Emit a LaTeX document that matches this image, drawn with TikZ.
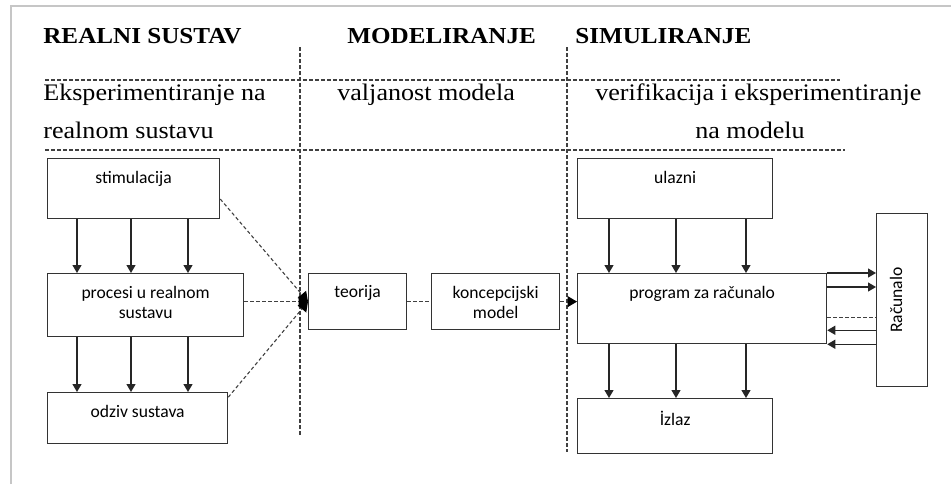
\documentclass[tikz,border=0pt]{standalone}
\usepackage{fontspec}
\setmainfont{Liberation Serif}[FakeStretch=1.1]
\newfontfamily\blokfont{Carlito}
\usepackage{xcolor}
\usetikzlibrary{arrows.meta,positioning,calc}

\tikzset{
	blok/.style={draw=black!80, line width=0.25mm, anchor=north west, inner sep=0pt},
	natpis/.style={anchor=north, font=\blokfont\fontsize{10}{11.5}\selectfont, align=center, inner sep=0pt, yshift=-2.5mm},
	strelica/.style={draw=black!85, line width=0.25mm, -{Triangle[length=1.6mm,width=1.8mm]}},
	isprekidana/.style={draw=black!75, line width=0.22mm, dash pattern=on 0.7mm off 0.5mm},
	vrh/.style={-{Triangle[length=1.9mm,width=2.2mm,color=black]}},
	naslov/.style={anchor=base west, inner sep=0pt, font=\fontsize{13}{15}\selectfont\bfseries},
	redak/.style={anchor=base west, inner sep=0pt, font=\fontsize{13.5}{16}\selectfont}
}

\begin{document}
\begin{tikzpicture}[x=0.2mm, y=-0.2mm]
		\useasboundingbox (0,0) rectangle (951,484);
		% okvir
		\draw[gray!45, line width=0.4mm] (10.5,484) -- (10.5,5.5) -- (951,5.5);

		% naslovi stupaca
		\node[naslov] (realni) at (43,43) {REALNI SUSTAV};
		\node[naslov] (model) at (347,43) {MODELIRANJE};
		\node[naslov] (simul) at (575,43) {SIMULIRANJE};

		\node[redak] (eksp1) at (43,100) {Eksperimentiranje na};
		\node[redak] (eksp2) at (43,138) {realnom sustavu};
		\node[redak] (valj) at (337,100) {valjanost modela};
		\node[redak] (verif1) at (595,100) {verifikacija i eksperimentiranje};
		\node[redak] (verif2) at (695,138) {na modelu};

		% crtkane granice
		\draw[isprekidana] (300,47) -- (300,437);
		\draw[isprekidana] (567,47) -- (567,452);
		\draw[isprekidana] (45,80) -- (840,80);
		\draw[isprekidana] (45,150) -- (845,150);

		% blokovi
		\node[blok, minimum width=34.4mm, minimum height=12mm, label={[natpis]north:stimulacija}] (stim) at (47,158) {};
		\node[blok, minimum width=39.2mm, minimum height=12.6mm, label={[natpis]north:procesi u realnom\\sustavu}] (procesi) at (47,273) {};
		\node[blok, minimum width=36mm, minimum height=10.2mm, label={[natpis]north:odziv sustava}] (odziv) at (47,392) {};
		\node[blok, minimum width=19.6mm, minimum height=11.2mm, label={[natpis]north:teorija}] (teorija) at (308,273) {};
		\node[blok, minimum width=25.6mm, minimum height=11.2mm, label={[natpis]north:koncepcijski\\model}] (konc) at (431,273) {};
		\node[blok, minimum width=39mm, minimum height=12mm, label={[natpis]north:ulazni}] (ulazni) at (577,158) {};
		\node[blok, minimum width=49.8mm, minimum height=14mm, label={[natpis]north:program za računalo}] (prog) at (577,273) {};
		\node[blok, minimum width=39mm, minimum height=11mm, label={[natpis]north:İzlaz}] (izlaz) at (577,398) {};
		\node[blok, minimum width=10.2mm, minimum height=34.6mm] (racun) at (876,213) {};
		\node[rotate=90, inner sep=0pt, font=\blokfont\fontsize{10}{12}\selectfont] (racuntekst) at ([xshift=-1.2mm]racun.center) {Računalo};

		% strelice realnog sustava
		\foreach \x in {77,131,188} {
			\draw[strelica] (stim.south -| \x,0) -- (procesi.north -| \x,0);
			\draw[strelica] (procesi.south -| \x,0) -- (odziv.north -| \x,0);
		}
		\foreach \x in {609,676,746} {
			\draw[strelica] (ulazni.south -| \x,0) -- (prog.north -| \x,0);
			\draw[strelica] (prog.south -| \x,0) -- (izlaz.north -| \x,0);
		}

		% prema teoriji
		\draw[isprekidana, vrh] ($(stim.north east)!0.67!(stim.south east)$) -- (teorija.west);
		\draw[isprekidana, vrh] (procesi.east |- teorija.west) -- (teorija.west);
		\draw[isprekidana, vrh] ($(odziv.north east)!0.1!(odziv.south east)$) -- (teorija.west);
		\draw[isprekidana] (teorija.east) -- (konc.west);
		\draw[isprekidana, vrh] (konc.east) -- (konc.east -| prog.west);

		% program <-> racunalo
		\foreach \d in {0,2.8}
			\draw[strelica] ([yshift=-\d mm]prog.north east) coordinate (t) -- (racun.west |- t);
		\draw[isprekidana] ([yshift=5.4mm]prog.south east) coordinate (t) -- (racun.west |- t);
		\foreach \d in {0,2.8} {
			\path ([yshift=\d mm]prog.south east) coordinate (t);
			\draw[strelica] (racun.west |- t) -- (t);
		}
	\end{tikzpicture}
\end{document}
